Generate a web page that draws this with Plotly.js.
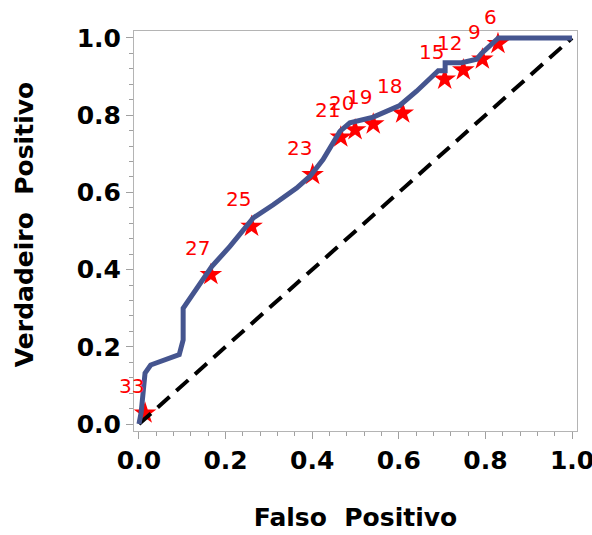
<!DOCTYPE html>
<html>
<head>
<meta charset="utf-8">
<script src="https://cdn.plot.ly/plotly-3.0.1.min.js"></script>
<style>html,body{margin:0;padding:0;background:#fff;}</style>
</head>
<body>
<div id="chart" style="width:592px;height:535px;"></div>
<script>
// ROC curve (false positive rate vs true positive rate)
const rocFP = [0, 0.005, 0.014, 0.027, 0.093, 0.102, 0.102, 0.118, 0.168, 0.21, 0.264, 0.31, 0.364, 0.395, 0.425, 0.464, 0.487, 0.541, 0.602, 0.641, 0.691, 0.707, 0.707, 0.745, 0.78, 0.791, 0.814, 0.83, 1.0];
const rocTP = [0, 0.03, 0.132, 0.153, 0.18, 0.218, 0.30, 0.326, 0.408, 0.46, 0.534, 0.568, 0.611, 0.642, 0.685, 0.758, 0.78, 0.795, 0.825, 0.862, 0.915, 0.915, 0.936, 0.936, 0.945, 0.96, 0.982, 1.0, 1.0];

// labelled cut points
const cutLabels = ["33", "27", "25", "23", "21", "20", "19", "18", "15", "12", "9", "6"];
const cutFP = [0.014, 0.166, 0.26, 0.401, 0.466, 0.499, 0.541, 0.609, 0.706, 0.749, 0.793, 0.829];
const cutTP = [0.028, 0.387, 0.512, 0.646, 0.743, 0.762, 0.777, 0.805, 0.893, 0.917, 0.945, 0.985];

// reference diagonal
const diagX = [0, 1];
const diagY = [0, 1];

// titles
const xTitle = 'Falso  Positivo';
const yTitle = 'Verdadeiro  Positivo';

const traces = [
  {x: cutFP, y: cutTP, mode: 'markers', type: 'scatter',
   marker: {symbol: 'star', size: 17, color: '#ff0000', line: {width: 0}},
   hoverinfo: 'skip'},
  {x: diagX, y: diagY, mode: 'lines', type: 'scatter',
   line: {color: '#000000', width: 4, dash: '16px,9px'}, hoverinfo: 'skip'},
  {x: rocFP, y: rocTP, mode: 'lines', type: 'scatter',
   line: {color: '#45558f', width: 5}, hoverinfo: 'skip'}
];

const titleFont = {family: 'DejaVu Sans', size: 25, color: '#000', weight: 'bold'};

const annotations = cutLabels.map((t, i) => ({
  x: cutFP[i], y: cutTP[i], xref: 'x', yref: 'y', text: t, showarrow: false,
  xanchor: 'right', yanchor: 'middle', xshift: 1, yshift: 27,
  font: {family: 'DejaVu Sans', size: 20, color: '#ff0000'}
}));
annotations.push({
  xref: 'paper', yref: 'paper', x: -0.248, y: 0.515, text: yTitle, textangle: -90,
  showarrow: false, xanchor: 'center', yanchor: 'middle', font: titleFont
});

const axisCommon = {
  showgrid: false, zeroline: false, showline: true, mirror: true,
  linecolor: '#b4b4b4', linewidth: 1,
  ticks: 'outside', ticklen: 7, tickcolor: '#a0a0a0', tickwidth: 1,
  dtick: 0.2, tick0: 0, tickformat: '.1f', ticklabeloverflow: 'allow',
  minor: {dtick: 0.04, ticks: 'outside', ticklen: 4, tickcolor: '#a0a0a0', tickwidth: 1},
  tickfont: {family: 'DejaVu Sans', size: 25, color: '#000', weight: 'bold'}
};

const layout = {
  width: 592, height: 535,
  paper_bgcolor: '#ffffff', plot_bgcolor: '#ffffff',
  showlegend: false,
  margin: {l: 134, r: 15, t: 31, b: 104},
  xaxis: Object.assign({}, axisCommon, {
    range: [-0.0115, 1.0115], automargin: false,
    title: {text: xTitle, standoff: 34, font: titleFont}
  }),
  yaxis: Object.assign({}, axisCommon, {
    range: [-0.018, 1.018], automargin: false
  }),
  annotations: annotations
};

Plotly.newPlot('chart', traces, layout, {displayModeBar: false, staticPlot: true});
</script>
</body>
</html>
